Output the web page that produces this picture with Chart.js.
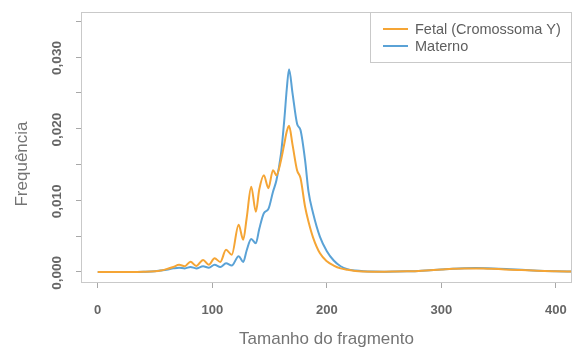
<!DOCTYPE html>
<html>
<head>
<meta charset="utf-8">
<script src="https://cdn.jsdelivr.net/npm/chart.js@4/dist/chart.umd.min.js"></script>
<style>
  html, body { margin: 0; padding: 0; background: #ffffff; }
  #wrap { width: 575px; height: 350px; }
</style>
</head>
<body>
<div id="wrap"><canvas id="c" width="575" height="350"></canvas></div>
<script>
// ---- data ----
const fragmentSizes = [0,10,20,30,40,50,55,60,66,71,76,81,86,92,97,102,107,112,117,123,127,130,134,138,141,145,149,153,156,160,163,165,167,170,174,177,181,184,188,194,200,206,212,218,225,232,240,250,260,270,280,290,300,310,320,330,340,350,360,370,380,390,400,414];

const fetalFreq = [0,0,0,0,0.00003,0.0001,0.0002,0.0004,0.0007,0.0010,0.0008,0.00144,0.00084,0.00167,0.0010,0.0019,0.0014,0.0031,0.0024,0.0066,0.0045,0.0075,0.0119,0.0084,0.0115,0.0135,0.0117,0.0142,0.0135,0.0156,0.0180,0.0196,0.0204,0.0178,0.0142,0.0131,0.0091,0.0070,0.0048,0.0026,0.0015,0.0009,0.0005,0.0003,0.00012,0.00005,0.00003,0.00003,0.00006,0.0001,0.00015,0.00025,0.00035,0.00045,0.0005,0.0005,0.00045,0.0004,0.00032,0.00026,0.0002,0.00014,0.0001,0.00005];

const maternalFreq = [0,0,0,0,0.00003,0.0001,0.0002,0.0003,0.0005,0.0006,0.0005,0.0007,0.0005,0.0008,0.0006,0.0010,0.0007,0.0012,0.0009,0.0022,0.0014,0.0030,0.0046,0.0040,0.0060,0.0082,0.0088,0.0112,0.0128,0.0165,0.0215,0.0255,0.0283,0.0250,0.0207,0.0198,0.0156,0.0112,0.0082,0.0049,0.0029,0.0016,0.0008,0.0004,0.0002,0.0001,0.00005,0.00004,0.00006,0.0001,0.00015,0.00025,0.00035,0.00045,0.00052,0.00055,0.00052,0.00046,0.00038,0.0003,0.00022,0.00015,0.0001,0.00005];

const seriesNames = ['Fetal (Cromossoma Y)', 'Materno'];
const xTickValues = [0, 100, 200, 300, 400];
const yTickValues = [0, 0.005, 0.010, 0.015, 0.020, 0.025, 0.030, 0.035];
const yLabelValues = [0, 0.010, 0.020, 0.030];
const xTitle = 'Tamanho do fragmento';
const yTitle = 'Frequência';

// ---- styles ----
const ORANGE = '#F5A535';
const BLUE = '#5AA2D6';
const TICK_COLOR = '#666666';
const TITLE_COLOR = '#747474';
const FRAME_COLOR = '#c9c9c9';
const FONT = '"Liberation Sans", Arial, Helvetica, sans-serif';

function fmtComma(v) { return v.toFixed(3).replace('.', ','); }

const toXY = (ys) => fragmentSizes.map((x, i) => ({ x: x, y: ys[i] }));

const decorPlugin = {
  id: 'decor',
  afterDraw(chart) {
    const { ctx, chartArea: a } = chart;
    const ys = chart.scales.y;
    ctx.save();
    // frame box
    ctx.strokeStyle = FRAME_COLOR;
    ctx.lineWidth = 1;
    ctx.strokeRect(Math.round(a.left) + 0.5, Math.round(a.top) + 0.5,
                   Math.round(a.right - a.left) - 1, Math.round(a.bottom - a.top));
    // rotated y tick labels (R style)
    ctx.fillStyle = TICK_COLOR;
    ctx.font = 'bold 13.5px ' + FONT;
    ctx.textAlign = 'center';
    ctx.textBaseline = 'middle';
    yLabelValues.forEach(v => {
      const y = ys.getPixelForValue(v);
      ctx.save();
      ctx.translate(57, y + 1);
      ctx.rotate(-Math.PI / 2);
      ctx.fillText(fmtComma(v), 0, 0);
      ctx.restore();
    });
    // y axis title
    ctx.fillStyle = TITLE_COLOR;
    ctx.font = '17px ' + FONT;
    ctx.save();
    ctx.translate(22, 164);
    ctx.rotate(-Math.PI / 2);
    ctx.fillText(yTitle, 0, 0);
    ctx.restore();
    // legend box
    const lx = 370.5, ly = Math.round(a.top) + 0.5, lw = Math.round(a.right) - 371, lh = 50;
    ctx.fillStyle = '#ffffff';
    ctx.fillRect(lx, ly, lw, lh);
    ctx.strokeStyle = FRAME_COLOR;
    ctx.strokeRect(lx, ly, lw, lh);
    chart.data.datasets.forEach((ds, i) => {
      const y = 29 + i * 17;
      ctx.strokeStyle = ds.borderColor;
      ctx.lineWidth = 2;
      ctx.beginPath();
      ctx.moveTo(383, y);
      ctx.lineTo(408, y);
      ctx.stroke();
      ctx.fillStyle = '#5e5e5e';
      ctx.font = '14.5px ' + FONT;
      ctx.textAlign = 'left';
      ctx.textBaseline = 'middle';
      ctx.fillText(ds.label, 415, y + 0.5);
    });
    ctx.restore();
  }
};

new Chart(document.getElementById('c'), {
  type: 'line',
  data: {
    datasets: [
      { label: seriesNames[0], data: toXY(fetalFreq), borderColor: ORANGE, borderWidth: 2,
        pointRadius: 0, cubicInterpolationMode: 'monotone', fill: false },
      { label: seriesNames[1], data: toXY(maternalFreq), borderColor: BLUE, borderWidth: 2,
        pointRadius: 0, cubicInterpolationMode: 'monotone', fill: false }
    ]
  },
  options: {
    responsive: false,
    animation: false,
    devicePixelRatio: 1,
    layout: { padding: { top: 12, right: 3, left: 0, bottom: 0 } },
    plugins: { legend: { display: false }, tooltip: { enabled: false } },
    scales: {
      x: {
        type: 'linear',
        min: -14.6,
        max: 414,
        afterBuildTicks: (s) => { s.ticks = xTickValues.map(v => ({ value: v })); },
        afterFit: (s) => { s.height = 68; s.paddingLeft = 0; s.paddingRight = 0; },
        grid: { display: true, drawOnChartArea: false, drawTicks: true, tickLength: 6, color: '#a8a8a8' },
        border: { display: false },
        ticks: {
          color: TICK_COLOR,
          font: { family: FONT, size: 13, weight: 'bold' },
          padding: 15,
          maxRotation: 0,
          callback: (v) => String(v)
        },
        title: {
          display: true,
          text: xTitle,
          color: TITLE_COLOR,
          font: { family: FONT, size: 17 },
          padding: { top: 0, bottom: 0 }
        }
      },
      y: {
        type: 'linear',
        min: -0.0014,
        max: 0.03628,
        afterBuildTicks: (s) => { s.ticks = yTickValues.map(v => ({ value: v })); },
        afterFit: (s) => { s.width = 81; s.paddingTop = 0; s.paddingBottom = 0; },
        grid: { display: true, drawOnChartArea: false, drawTicks: true, tickLength: 5, color: '#a8a8a8' },
        border: { display: false },
        ticks: { callback: () => '', padding: 0 }
      }
    }
  },
  plugins: [decorPlugin]
});
</script>
</body>
</html>
